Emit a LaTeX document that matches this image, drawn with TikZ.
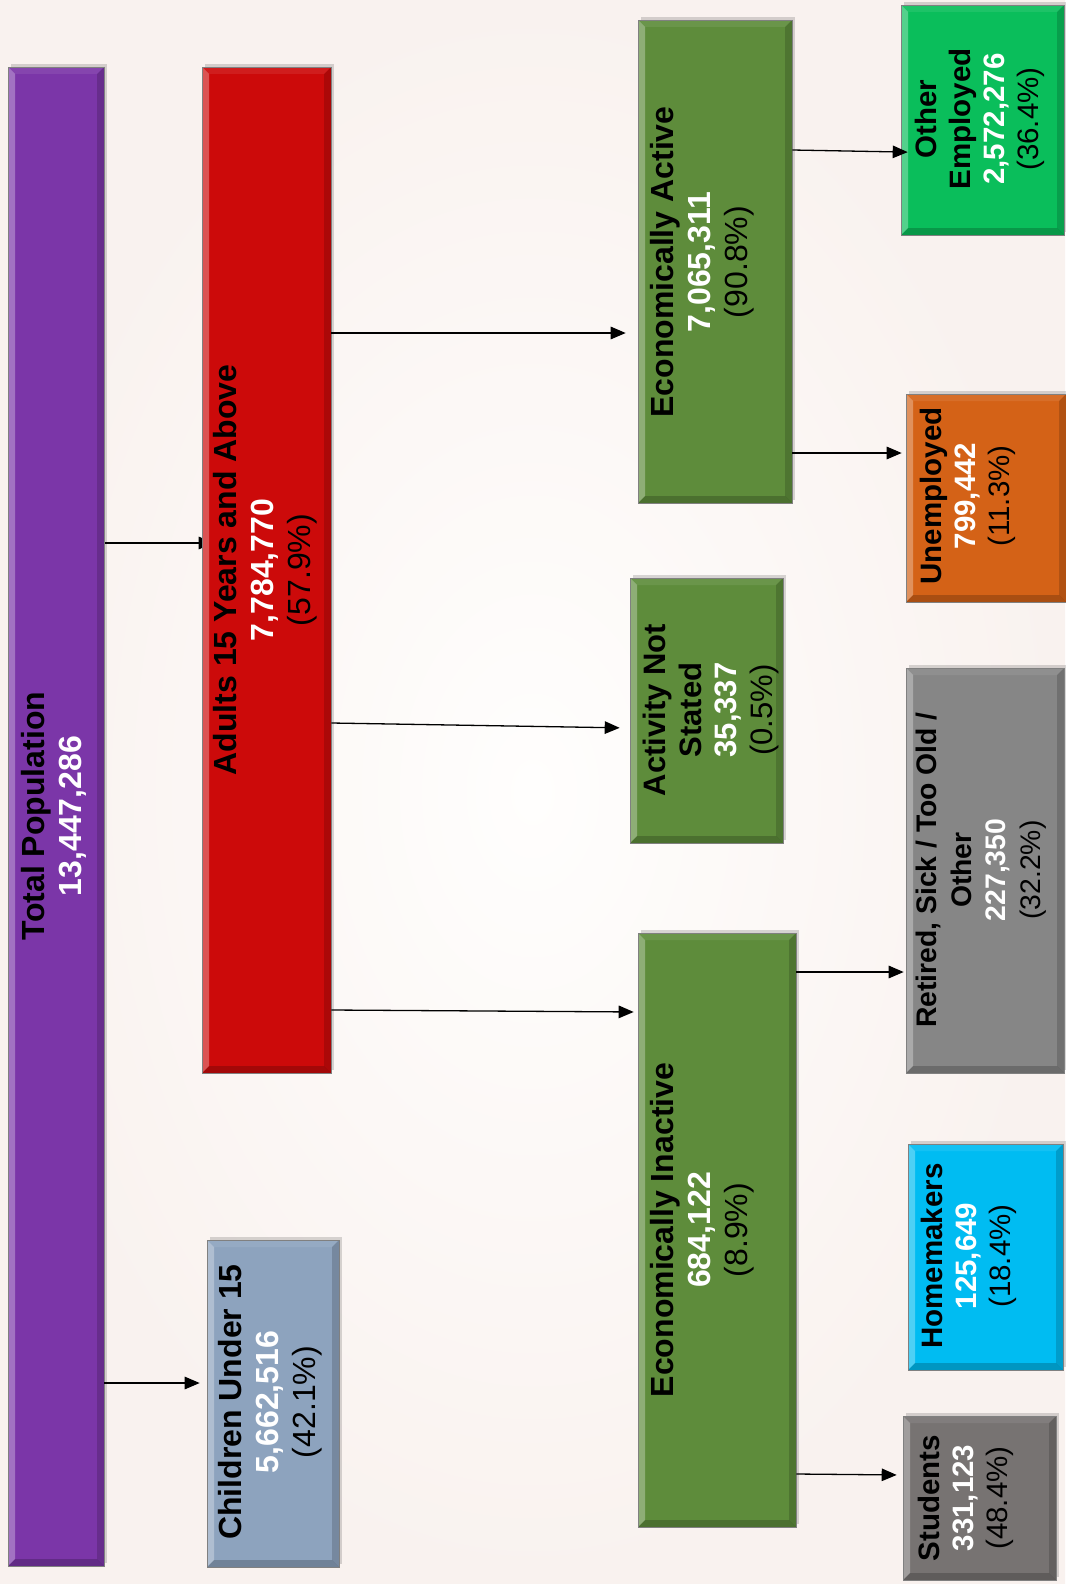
\documentclass[tikz,border=0pt]{standalone}
\usepackage{fontspec}
\setmainfont{Liberation Sans}
\usetikzlibrary{arrows.meta,shadows}
\pgfdeclarelayer{back}
\pgfdeclarelayer{under}
\pgfsetlayers{back,under,main}
\definecolor{bgin}{HTML}{FFFEFD}
\definecolor{bgout}{HTML}{F9F2EF}
\definecolor{cpurple}{HTML}{7B36A8}
\definecolor{cred}{HTML}{CC0A0A}
\definecolor{cchild}{HTML}{8DA3BE}
\definecolor{cgreen}{HTML}{5E8C3B}
\definecolor{cemp}{HTML}{0ABE5B}
\definecolor{cunemp}{HTML}{D46217}
\definecolor{cretired}{HTML}{868686}
\definecolor{chome}{HTML}{00BCF2}
\definecolor{cstud}{HTML}{777372}
\newcommand\BigTxt{\fontsize{32}{36.8}\selectfont}
\newcommand\MidTxt{\fontsize{31}{35.5}\selectfont}
\newcommand\SmTxt{\fontsize{29.5}{34.2}\selectfont}
\newcommand\RetTxt{\fontsize{28.3}{34.5}\selectfont}
\newcommand\Num[1]{\textcolor{white}{\bfseries #1}}
\tikzset{
  bevel/.style={path picture={
    \path (path picture bounding box.south west) coordinate (@sw)
          (path picture bounding box.north east) coordinate (@ne)
          (path picture bounding box.north west) coordinate (@nw)
          (path picture bounding box.south east) coordinate (@se);
    \fill[white,opacity=0.30] (@sw) -- (@nw) -- ([shift={(7pt,-7pt)}]@nw) -- ([shift={(7pt,7pt)}]@sw) -- cycle;
    \fill[white,opacity=0.08] (@nw) -- (@ne) -- ([shift={(-7pt,-7pt)}]@ne) -- ([shift={(7pt,-7pt)}]@nw) -- cycle;
    \fill[black,opacity=0.16] (@ne) -- (@se) -- ([shift={(-7pt,7pt)}]@se) -- ([shift={(-7pt,-7pt)}]@ne) -- cycle;
    \fill[black,opacity=0.20] (@sw) -- (@se) -- ([shift={(-7pt,7pt)}]@se) -- ([shift={(7pt,7pt)}]@sw) -- cycle;
  }},
  box/.style={draw=black!50, line width=0.6pt, inner sep=0pt, bevel,
    drop shadow={shadow xshift=3pt, shadow yshift=3pt, opacity=0.15, fill=black}},
  txt/.style={rotate=90, align=center, inner sep=0pt},
  arr/.style={draw=black, line width=1.3pt, -{Triangle[length=15pt,width=12.5pt]}}
}
\begin{document}
\begin{tikzpicture}[x=1pt,y=-1pt]
\useasboundingbox (0,0) rectangle (1065,1584);
\begin{pgfonlayer}{back}
\shade[inner color=bgin, outer color=bgout] (0,0) rectangle (1065,1584);
\end{pgfonlayer}

% boxes
\node[box, fill=cpurple, minimum width=96pt, minimum height=1499pt] (total) at (56,816.5) {};
\node[box, fill=cred, minimum width=129pt, minimum height=1006pt] (adults) at (266.5,570) {};
\node[box, fill=cchild, minimum width=132pt, minimum height=327pt] (children) at (273,1403.5) {};
\node[box, fill=cgreen, minimum width=154pt, minimum height=483pt] (econact) at (715,261.5) {};
\node[box, fill=cgreen, minimum width=153pt, minimum height=265pt] (notstated) at (706.5,710.5) {};
\node[box, fill=cgreen, minimum width=158pt, minimum height=594pt] (econinact) at (717,1230) {};
\node[box, fill=cemp, minimum width=163pt, minimum height=230pt] (otheremp) at (982.5,120) {};
\node[box, fill=cunemp, minimum width=160pt, minimum height=208pt] (unemp) at (986,498) {};
\node[box, fill=cretired, minimum width=158pt, minimum height=405pt] (retired) at (985,870.5) {};
\node[box, fill=chome, minimum width=155pt, minimum height=226pt] (home) at (985.5,1257) {};
\node[box, fill=cstud, minimum width=153pt, minimum height=164pt] (stud) at (979.5,1498) {};

% texts
\node[txt, font=\BigTxt] (t-total) at (54,816) {\bfseries Total Population\\\Num{13,447,286}};
\node[txt, font=\BigTxt] (t-adults) at (265,570) {\bfseries Adults 15 Years and Above\\\Num{7,784,770}\\(57.9\%)};
\node[txt, font=\BigTxt] (t-children) at (270,1402) {\bfseries Children Under 15\\\Num{5,662,516}\\(42.1\%)};
\node[txt, font=\BigTxt] (t-econact) at (702,262) {\bfseries Economically Active\\\Num{7,065,311}\\(90.8\%)};
\node[txt, font=\MidTxt] (t-notstated) at (711,710) {\bfseries Activity Not\\\bfseries Stated\\\Num{35,337}\\(0.5\%)};
\node[txt, font=\BigTxt] (t-econinact) at (702,1230) {\bfseries Economically Inactive\\\Num{684,122}\\(8.9\%)};
\node[txt, font=\SmTxt] (t-otheremp) at (980,119) {\bfseries Other\\\bfseries Employed\\\Num{2,572,276}\\(36.4\%)};
\node[txt, font=\SmTxt] (t-unemp) at (968,496) {\bfseries Unemployed\\\Num{799,442}\\(11.3\%)};
\node[txt, font=\RetTxt] (t-retired) at (981,870) {\bfseries Retired, Sick / Too Old /\\\bfseries Other\\\Num{227,350}\\(32.2\%)};
\node[txt, font=\SmTxt] (t-home) at (969,1256) {\bfseries Homemakers\\\Num{125,649}\\(18.4\%)};
\node[txt, font=\SmTxt] (t-stud) at (966,1498) {\bfseries Students\\\Num{331,123}\\(48.4\%)};

% connectors
\begin{pgfonlayer}{under}
\draw[arr, shorten >=-12pt] (total.east |- 0,543) -- (adults.west |- 0,543);
\end{pgfonlayer}
\draw[arr, shorten >=7pt] (total.east |- 0,1383) -- (children.west |- 0,1383);
\draw[arr, shorten >=12pt] (adults.east |- 0,333) -- (econact.west |- 0,333);
\draw[arr, shorten >=10pt] (adults.east |- 0,723) -- (notstated.west |- 0,728);
\draw[arr, shorten >=4pt] (adults.east |- 0,1010) -- (econinact.west |- 0,1012);
\draw[arr, shorten >=-7pt] (econact.east |- 0,150) -- (otheremp.west |- 0,152);
\draw[arr, shorten >=4pt] (econact.east |- 0,453) -- (unemp.west |- 0,453);
\draw[arr, shorten >=2pt] (econinact.east |- 0,972) -- (retired.west |- 0,972);
\draw[arr, shorten >=6pt] (econinact.east |- 0,1474) -- (stud.west |- 0,1475);
\end{tikzpicture}
\end{document}
